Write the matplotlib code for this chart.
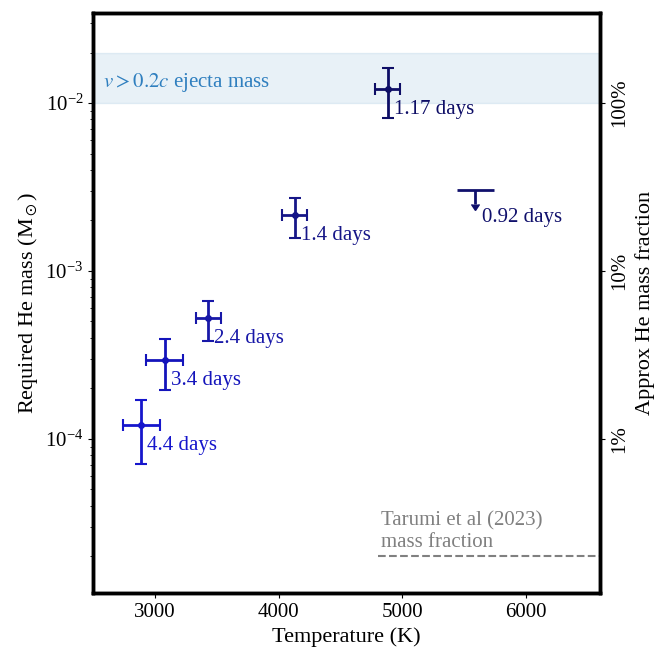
import numpy as np
import matplotlib.pyplot as plt

plt.rcParams["font.family"] = "serif"
plt.rcParams["font.serif"] = ["Liberation Serif", "DejaVu Serif"]
plt.rcParams["mathtext.fontset"] = "stix"

# values
epochs = ["4.4 days", "3.4 days", "2.4 days", "1.4 days", "1.17 days"]
temps = [2890, 3080, 3430, 4130, 4880]
temp_err = [150, 150, 100, 100, 100]
he_mass = [1.21e-4, 2.95e-4, 5.25e-4, 2.15e-3, 1.21e-2]
he_err = [5.0e-5, 1.0e-4, 1.4e-4, 5.8e-4, 4.0e-3]
colors = ["#1616cc", "#1414bb", "#1818a8", "#161688", "#0e0e66"]

# upper limit at the earliest epoch
ul_label = "0.92 days"
ul_temp = 5590
ul_temp_err = 150
ul_mass = 3.03e-3
ul_color = "#10106c"

band_lo, band_hi = 0.01, 0.02
tarumi_frac = 2e-5
tarumi_tmin = 4800

xlim = (2500, 6600)
ylim = (1.21e-5, 3.44e-2)

fig = plt.figure(figsize=(6.7, 6.5), dpi=100)
ax = fig.add_axes([0.139, 0.088, 0.757, 0.892])

ax.axhspan(band_lo, band_hi, color="C0", alpha=0.1)
ax.text(2580, 0.0133, r"$v > 0.2c$ ejecta mass", color="#2f7fbf",
        fontsize=15, va="center", ha="left")

for lab, t, te, m, me, c in zip(epochs, temps, temp_err, he_mass, he_err, colors):
    ax.errorbar(t, m, xerr=te, yerr=me, fmt="o", color=c, ms=4,
                elinewidth=2, capsize=4, capthick=1.5)
    ax.annotate(lab, (t, m), xytext=(6, -11), textcoords="offset pixels",
                color=c, fontsize=15, ha="left", va="top")

ax.errorbar(ul_temp, ul_mass, xerr=ul_temp_err, yerr=ul_mass * 0.17, uplims=True,
            fmt="none", color=ul_color, elinewidth=2, capsize=0)
ax.annotate(ul_label, (ul_temp, ul_mass), xytext=(7, -18), textcoords="offset pixels",
            color=ul_color, fontsize=15, ha="left", va="top")

ax.hlines(tarumi_frac, tarumi_tmin, xlim[1], colors="gray", linestyles="--", lw=1.5)
ax.text(4830, 2.12e-5, "Tarumi et al (2023)\nmass fraction", color="gray",
        fontsize=15, ha="left", va="bottom")

ax.set_yscale("log")
ax.set_xlim(xlim)
ax.set_ylim(ylim)
ax.set_xticks([3000, 4000, 5000, 6000])
ax.set_xlabel("Temperature (K)", fontsize=16)
ax.set_ylabel(r"Required He mass (M$_\odot$)", fontsize=16)
ax.tick_params(labelsize=15)
for sp in ax.spines.values():
    sp.set_linewidth(2.5)

ax2 = ax.twinx()
ax2.set_yscale("log")
ax2.set_ylim(ylim[0] * 1e4, ylim[1] * 1e4)
ax2.set_yticks([1, 10, 100])
ax2.set_yticklabels(["1%", "10%", "100%"], rotation=90, va="center")
ax2.minorticks_off()
ax2.tick_params(labelsize=15)
ax2.set_ylabel("Approx He mass fraction", fontsize=16)
for sp in ax2.spines.values():
    sp.set_linewidth(2.5)

fig.savefig("out.png", dpi=100)
